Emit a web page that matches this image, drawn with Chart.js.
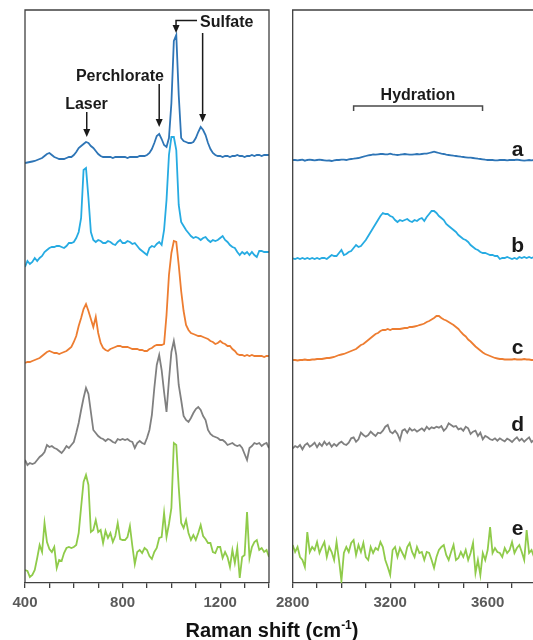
<!DOCTYPE html>
<html><head><meta charset="utf-8">
<script src="https://cdn.jsdelivr.net/npm/chart.js@4.4.0/dist/chart.umd.min.js"></script>
<style>
html,body{margin:0;padding:0;background:#fff;overflow:hidden;width:533px;height:640px;}
#wrapL{position:absolute;left:0;top:0;width:280px;height:640px;}
#wrapR{position:absolute;left:270px;top:0;width:280px;height:640px;}
#title{position:absolute;top:618px;left:272px;transform:translateX(-50%);white-space:nowrap;font:bold 20px "Liberation Sans",Arial,sans-serif;color:#111;}
#title sup{font-size:12px;}
</style></head>
<body>
<div id="wrapL"><canvas id="cL"></canvas></div>
<div id="wrapR"><canvas id="cR"></canvas></div>
<div id="title">Raman shift (cm<sup>-1</sup>)</div>
<script>
// Sampling grids (cm-1), 10 cm-1 steps
const leftStart = 400, leftEnd = 1400, rightStart = 2800, rightEnd = 3800, stepCm = 10;
const seriesNames = ['a','b','c','d','e'];
const seriesColors = ['#2E75B6','#26ABE2','#ED7D31','#808080','#8FCB4A'];
// vertical stacking offsets of each spectrum
const seriesOffsets = [420, 323, 220, 123, 23];

// Relative intensities, low-wavenumber region 400-1400
const aLeft = [0,0.5,1,1.5,2,3,4,5,7,9, 10,8,6,5,4,4,4,5,6,6, 8,11,15,17,19,21,20,17,15,12, 9,7,6,6,6,6,5,6,6,6,
 6,6,5,6,6,6,6,7,7,7, 8,10,14,20,27,29,24,18,16,25, 60,122,128,68,25,22,21,20,20,21, 25,31,36,33,28,20,14,10,8,7,
 7,6,7,7,6,7,7,8,7,7, 6,7,7,8,7,8,8,7,8,8, 8];
const bLeft = [-7,-1,-4,-2,2,-1,2,4,8,10, 12,13,13,14,14,13,12,14,17,17, 18,22,28,42,90,92,62,28,20,18, 20,19,17,17,19,18,16,15,18,20,
 17,17,19,18,16,17,14,11,9,7, 5,12,14,13,16,18,15,30,60,105, 123,123,110,55,38,34,30,27,24,22, 23,22,20,22,23,20,18,20,19,20,
 22,24,20,18,15,13,12,8,5,8, 6,8,5,8,5,3,9,9,8,8, 8];
const cLeft = [0,1,1,2,3,4,5,7,9,11, 12,11,10,10,9,10,11,12,14,16, 21,27,37,45,54,59,52,44,36,46, 30,20,15,13,12,14,15,16,17,17,
 16,16,16,15,14,14,14,13,13,12, 12,14,15,17,18,18,18,19,48,88, 110,122,121,98,72,52,38,33,30,29, 28,27,27,26,25,24,22,21,19,20,
 22,20,19,17,17,14,12,9,8,8, 7,8,7,8,7,7,7,7,6,7, 7];
const dLeft = [0,-5,-3,-4,-3,0,3,5,8,15, 13,14,12,11,9,7,10,14,12,15, 18,27,37,50,62,72,66,48,30,27, 24,22,21,19,21,20,18,17,21,20,
 21,20,21,19,18,12,17,19,17,16, 22,30,45,72,95,105,90,68,48,80, 108,119,105,75,60,44,40,38,42,47, 51,53,50,44,40,30,26,24,23,22,
 20,20,18,15,16,17,15,14,15,12, 6,0,12,14,17,16,17,14,16,17, 12];
const eLeft = [-10,-11,-17,-15,-10,2,15,8,37,18, 11,8,13,-8,0,-1,7,12,13,12, 13,15,27,53,78,85,75,28,30,40, 28,30,17,29,22,27,18,24,37,21,
 20,20,23,34,14,-4,8,10,7,12, 10,4,1,8,12,22,23,47,23,36, 52,117,115,73,37,32,40,27,20,25, 20,27,35,24,21,17,17,8,7,13,
 13,2,8,3,-7,10,-3,12,-18,3, 5,48,2,13,18,20,10,12,8,10, 3];

// High-wavenumber region 2800-3800
const aRight = [3,3,2.7,3,3.3,2.3,3,3.3,3,2.7, 3,3.3,3,2.7,2.3,2.5,2,2.7,3,3, 3.3,3.3,3,3.7,4,4.3,4.7,5,5.7,6.3, 7,7.7,8,8.7,8.3,8.7,9,9,8.7,8.7,
 9.3,8.7,8.3,8,8.3,8.7,9,8.7,8.3,8.3, 8.7,9,8.7,9,9.3,9.3,10,10.7,11.3,10.7, 10,9.3,9,8.3,8,7.7,7.3,7,6.7,6.3, 6,5.7,5.3,5.3,5,4.7,4.3,4,3.7,3.3,
 3,3,3,2.7,2.7,3,3,3,2.7,3, 3,3,3.3,3,2.7,2.3,2.7,3,2.7,3, 3];
const bRight = [1.7,1,2,1,2,1,2,1,2,1, 2,1,2,2,1,3,5,4,4,7, 10,5,6,8,9,12,15,13,14,17, 20,24,28,32,36,40,44,47,46,46,
 44,43,40,38,40,39,40,41,39,38, 40,39,41,42,39,43,46,49,49,47, 44,42,40,36,34,32,30,28,25,23, 21,20,18,15,13,11,10,8,7,7,
 6,5,5,4,4,1,2,2,3,2, 1,2,1,3,2,3,2,3,2,3, 2];
const cRight = [3,3,2.5,3,3,3.5,3,3,3.5,3.5, 4,4,4,4.5,5,5,5.5,6,7,8, 8.5,9,10,11,12,13,14,16,18,19, 21,23,25,27,29,30,32,33,33,34,
 33,34,34,34,34,34.5,35,35,36,36, 36.5,37,38,38.5,39.5,41,42,43.5,45,47, 47,45,43.5,42.5,41,39.5,38,36,34,31, 28.5,26.5,23.5,21.5,19,16.5,14.5,12.5,10.5,9,
 8,7,6,5,4.5,4,4,3.5,3.5,3.5, 3.5,4,3.5,3.5,3.5,4,3.5,3.5,3,3, 3];
const dRight = [11.7,14,12.7,15,10.7,15,16.7,13.3,15,17.3, 12.7,16.7,14,18.3,15,17.3,13.3,16,14,16.7, 18.3,16,15,17.3,21.7,22.7,18.3,20.7,27.3,25,
 23.3,25,28.3,26,24,27.3,26.7,29.3,33.3,35, 28.3,26.7,29.3,26,20,29.3,30.7,27.3,31.7,29.3, 30.7,28.3,30,31.7,29.3,33.3,30.7,32.7,31.7,33.3,
 32.3,34,29.3,31.7,36.7,35,33.3,34,30.7,31.7, 29.3,33.3,31.7,26,28.3,29.3,24,27.3,20.7,24, 22.7,20.7,20,21.7,19.3,21.7,20,18.7,21.3,20,
 18,20.7,22.7,19.3,21.3,18.3,20.7,22.7,18,20, 19];
const eRight = [15,8,13,3,0,-7,28,8,13,10, 18,7,13,18,3,13,8,0,18,0, -21,7,13,8,17,20,5,15,8,17, 3,0,13,7,12,10,18,13,0,-7,
 -15,10,13,3,12,7,2,13,17,8, 3,13,7,8,0,8,7,0,-8,3, 10,13,15,5,0,8,15,0,2,8, 3,10,0,7,17,-13,0,-15,7,0,
 10,33,7,12,8,7,3,12,7,10, 18,7,12,15,8,0,30,7,10,3, 7];

const leftSeries = [aLeft,bLeft,cLeft,dLeft,eLeft];
const rightSeries = [aRight,bRight,cRight,dRight,eRight];
const tickLabelEvery = 400;

const FONT = '"Liberation Sans", Arial, sans-serif';
function axisGrid(start,end){ const g=[]; for(let w=start; w<=end; w+=stepCm) g.push(w); return g; }
const leftGrid = axisGrid(leftStart,leftEnd), rightGrid = axisGrid(rightStart,rightEnd);

function buildDatasets(grid, series){
  return series.map((vals,si)=>({
    label: seriesNames[si],
    data: vals.map((v,i)=>({x:grid[i], y:seriesOffsets[si]+v})),
    borderColor: seriesColors[si], borderWidth: 1.8, pointRadius: 0, tension: 0, fill:false
  }));
}

// annotation layout (in data coordinates)
const leftNotes = {
  texts: [{t:'Laser',x:652,y:474},{t:'Perchlorate',x:789,y:502},{t:'Sulfate',x:1227,y:556.5}],
  arrows: [
    [[653,471],[653,446]],
    [[950,499],[950,456]],
    [[1105,562.5],[1019,562.5],[1019,550]],
    [[1128,550],[1128,461]]
  ],
  brackets: [], letters: []
};
const rightNotes = {
  texts: [{t:'Hydration',x:3314,y:483}],
  arrows: [],
  brackets: [{x1:3050,x2:3579,y:477,yEnd:472}],
  letters: seriesNames.map((n,i)=>({t:n,x:3723,y:[427,331,229,152,48][i]}))
};

const notesPlugin = {
  id:'notes',
  afterDatasetsDraw(chart, args, opts){
    const {ctx, chartArea:a, scales:{x,y}} = chart;
    ctx.save();
    // frame
    ctx.strokeStyle='#404040'; ctx.lineWidth=1.3;
    ctx.beginPath();
    ctx.moveTo(a.left,a.bottom); ctx.lineTo(a.left,a.top); ctx.lineTo(a.right,a.top);
    if(opts.rightBorder) ctx.lineTo(a.right,a.bottom);
    ctx.stroke();
    const n = opts.notes;
    ctx.fillStyle='#1a1a1a'; ctx.textAlign='center'; ctx.textBaseline='alphabetic';
    ctx.font='bold 16px '+FONT;
    n.texts.forEach(t=>ctx.fillText(t.t, x.getPixelForValue(t.x), y.getPixelForValue(t.y)));
    ctx.font='bold 21px '+FONT;
    n.letters.forEach(t=>ctx.fillText(t.t, x.getPixelForValue(t.x), y.getPixelForValue(t.y)));
    ctx.strokeStyle='#1a1a1a'; ctx.lineWidth=1.5;
    n.arrows.forEach(pts=>{
      const p = pts.map(q=>[x.getPixelForValue(q[0]), y.getPixelForValue(q[1])]);
      const tip = p[p.length-1];
      ctx.beginPath(); ctx.moveTo(p[0][0],p[0][1]);
      for(let i=1;i<p.length-1;i++) ctx.lineTo(p[i][0],p[i][1]);
      ctx.lineTo(tip[0], tip[1]-6);
      ctx.stroke();
      ctx.beginPath(); ctx.moveTo(tip[0]-3.5,tip[1]-8); ctx.lineTo(tip[0]+3.5,tip[1]-8); ctx.lineTo(tip[0],tip[1]); ctx.closePath(); ctx.fill();
    });
    ctx.strokeStyle='#4a4a4a'; ctx.lineWidth=1.5;
    n.brackets.forEach(b=>{
      const x1=x.getPixelForValue(b.x1), x2=x.getPixelForValue(b.x2), yy=y.getPixelForValue(b.y), ye=y.getPixelForValue(b.yEnd);
      ctx.beginPath(); ctx.moveTo(x1,ye); ctx.lineTo(x1,yy); ctx.lineTo(x2,yy); ctx.lineTo(x2,ye); ctx.stroke();
    });
    ctx.restore();
  }
};

function makeChart(id, grid, series, xmin, xmax, pad, notes, rightBorder){
  return new Chart(document.getElementById(id), {
    type:'line',
    data:{datasets: buildDatasets(grid, series)},
    options:{
      responsive:true, maintainAspectRatio:false, animation:false,
      layout:{padding:pad},
      plugins:{legend:{display:false}, tooltip:{enabled:false}, notes:{notes, rightBorder}},
      scales:{
        x:{type:'linear', min:xmin, max:xmax,
          afterFit(s){ s.height = 57; },
          ticks:{stepSize:100, autoSkip:false, maxRotation:0, minRotation:0, padding:6,
            color:'#5a5a5a', font:{family:FONT, size:15, weight:'bold'},
            callback:v => (v % tickLabelEvery === 0) ? String(v) : ''},
          grid:{drawOnChartArea:false, drawTicks:true, tickLength:5, color:'#404040', lineWidth:1.3},
          border:{display:true, color:'#404040', width:1.3}
        },
        y:{display:false, min:0, max:573}
      }
    },
    plugins:[notesPlugin]
  });
}

makeChart('cL', leftGrid, leftSeries, leftStart, leftEnd, {left:25,right:11,top:10,bottom:0}, leftNotes, true);
makeChart('cR', rightGrid, rightSeries, rightStart, rightEnd, {left:22,right:13.6,top:10,bottom:0}, rightNotes, false);
</script>
</body></html>
